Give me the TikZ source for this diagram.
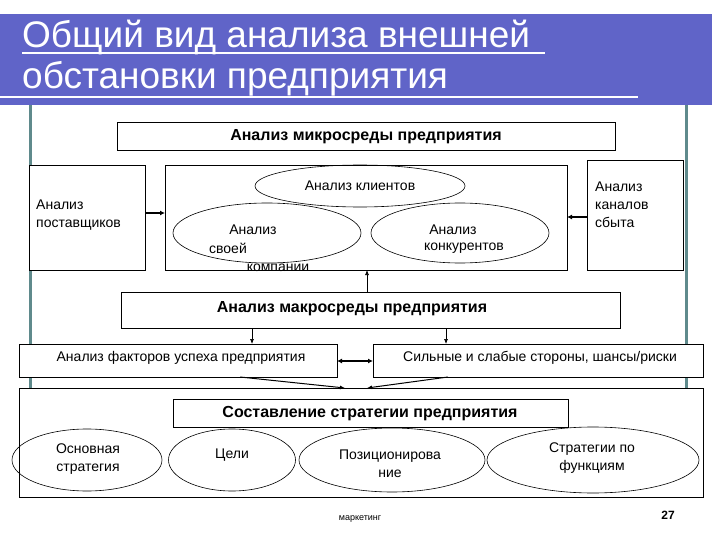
\documentclass[tikz,border=0pt]{standalone}
\usepackage{fontspec}
\setmainfont{Liberation Sans}
\usetikzlibrary{shapes.geometric,arrows.meta}
\definecolor{band}{HTML}{6064C8}
\definecolor{teal}{HTML}{5F8A8C}
\begin{document}
\begin{tikzpicture}[x=1pt,y=-1pt,
  bx/.style={draw,line width=0.7pt,inner sep=0},
  el/.style={draw,ellipse,line width=0.6pt,inner sep=0},
  tx/.style={font=\fontsize{14}{18}\selectfont,align=left,inner sep=0},
  bt/.style={font=\fontsize{16}{18}\selectfont\bfseries,inner sep=0},
  thick arr/.style={-{Latex[length=5pt,width=5pt]},line width=1.5pt},
  thin arr/.style={-{Latex[length=5pt,width=4pt]},line width=0.7pt}]
\useasboundingbox (0,0) rectangle (720,540);
\fill[white] (0,0) rectangle (720,540);
% title band
\fill[band] (0,14) rectangle (712,105);
\draw[teal,line width=3pt] (30,105) -- (30,430) (686,105) -- (686,430);
\node[anchor=base west,inner sep=0,white,font=\fontsize{37}{38}\selectfont] (t1) at (22,48) {Общий вид анализа внешней};
\node[anchor=base west,inner sep=0,white,font=\fontsize{37}{38}\selectfont] (t2) at (22,89) {обстановки предприятия};
\draw[white,line width=2pt] (22,53) -- (545,53) (0,97) -- (638,97);
% micro
\draw[bx,fill=white] (117,122) rectangle (615,150);
\node[bt] (micro) at (366,137) {Анализ микросреды предприятия};
\draw[bx,fill=white] (29,165) rectangle (145,270);
\node[tx,anchor=north west] (sup) at (36,200) {Анализ\\поставщиков};
\draw[bx,fill=white] (165,165) rectangle (567,270);
\coordinate (cw) at (165,213); \coordinate (ce) at (567,217); \coordinate (cs) at (367,270);
\draw[bx,fill=white] (587,160) rectangle (683,270);
\node[tx,anchor=north west] (chan) at (595,182) {Анализ\\каналов\\сбыта};
\node[el,minimum width=210,minimum height=42] (kl) at (360,186) {};
\node[tx] at (360,186) {Анализ клиентов};
\node[el,minimum width=188,minimum height=60] (own) at (267,233) {};
\node[tx] at (253,230) {Анализ};
\node[tx] at (228,248) {своей};
\node[tx] at (278,268) {компании};
\node[el,minimum width=178,minimum height=60] (comp) at (460,233) {};
\node[tx] at (453,230) {Анализ};
\node[tx] at (464,248) {конкурентов};
\draw[thick arr] (145,213) -- (cw);
\draw[thick arr] (587,217) -- (ce);
% macro
\draw[bx,fill=white] (121,292) rectangle (620,328);
\node[bt] (macro) at (352,309) {Анализ макросреды предприятия};
\draw[thin arr] (367,292) -- (cs);
\draw[bx,fill=white] (19,344) rectangle (337,377);
\node[tx] (fac) at (181,358) {Анализ факторов успеха предприятия};
\draw[bx,fill=white] (373,344) rectangle (703,377);
\node[tx] (swot) at (540,358) {Сильные и слабые стороны, шансы/риски};
\draw[thin arr] (252,328) -- (252,344);
\draw[thin arr] (446,328) -- (446,344);
\draw[{Latex[length=5pt,width=5pt]}-{Latex[length=5pt,width=5pt]},line width=1.5pt] (337,361) -- (373,361);
% bottom
\draw[bx,fill=white] (19,388) rectangle (703,497);
\draw[thin arr,line width=1pt] (240,377) -- (345,388);
\draw[thin arr,line width=1pt] (448,377) -- (367,388);
\draw[bx] (173,399) rectangle (568,427);
\node[bt] (str) at (370,414) {Составление стратегии предприятия};
\node[el,minimum width=150,minimum height=62] (e1) at (87,460) {};
\node[tx,align=center] at (88,459) {Основная\\стратегия};
\node[el,minimum width=127,minimum height=62] (e2) at (232,460) {};
\node[tx] at (232,455) {Цели};
\node[el,minimum width=186,minimum height=64] (e3) at (392,460) {};
\node[tx,align=center] at (390,464) {Позиционирова\\ние};
\node[el,minimum width=212,minimum height=66] (e4) at (593,460) {};
\node[tx,align=center] at (592,458) {Стратегии по\\функциям};
\node[font=\fontsize{9}{10}\selectfont,inner sep=0] (mk) at (360,519) {маркетинг};
\node[font=\fontsize{12}{12}\selectfont\bfseries,inner sep=0] (pg) at (668,515) {27};
\end{tikzpicture}
\end{document}
